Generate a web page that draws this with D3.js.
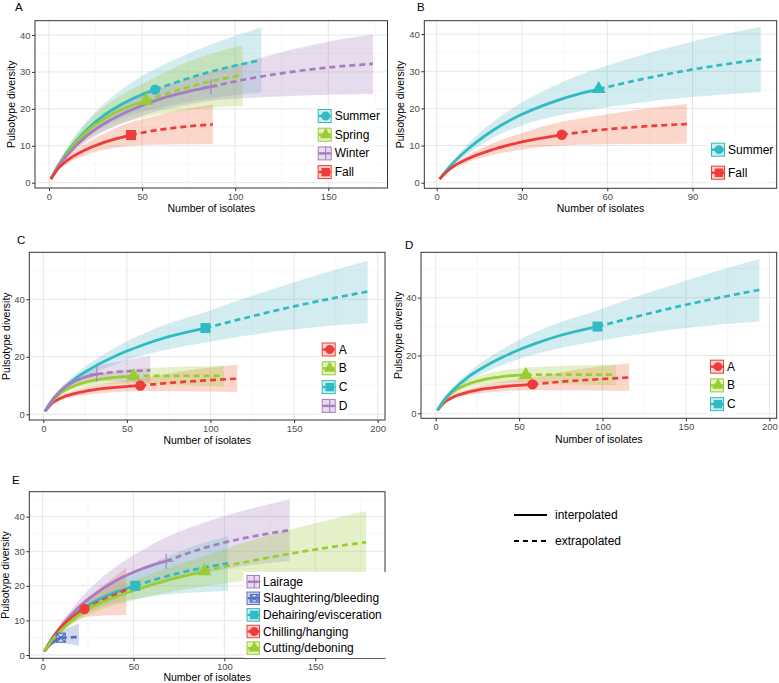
<!DOCTYPE html>
<html><head><meta charset="utf-8">
<script src="https://cdn.jsdelivr.net/npm/d3@7"></script>
<style>
body{margin:0;background:#fff;}
svg{display:block;font-family:"Liberation Sans",Arial,Helvetica,sans-serif;}
</style></head><body>
<svg id="chart" width="779" height="683"></svg>
<script>
// ---- DATA: rows are [number of isolates, estimate, lower CI, upper CI] ----
// Season (panels A, B)
const summer = [[1,1,1,1],[5,4.7,4.2,5.2],[10,8.4,7.2,9.7],[20,14.2,12.2,16.5],[30,18.4,15.4,21.6],[40,21.5,17.6,25.6],[50,23.9,19.2,28.9],[57,25.2,20,30.8],[70,27.5,21.4,33.9],[85,29.8,22.7,37],[100,31.7,23.7,39.8],[114,33.2,24.4,42]];
const spring = [[1,1,1,1],[5,4.6,4.1,5.1],[10,8.2,7,9.5],[20,13.7,11.6,16],[30,17.4,14.3,20.7],[40,20,16.2,24.1],[52,22.2,17.8,27.3],[65,24.4,19,30.6],[80,26.6,20,33.8],[95,28.3,20.6,36.1],[104,29.1,20.8,37.2]];
const winter = [[1,1,1,1],[5,4.4,4,4.8],[10,7.6,6.7,8.6],[20,12.6,11,14.3],[30,16.1,14,18.3],[45,19.9,17.2,22.6],[60,22.7,19.6,25.8],[75,24.7,21.2,28.3],[87,26,22.2,29.9],[110,28.4,23,33.3],[130,30,23.5,36],[150,31.2,23.8,38.2],[174,32.2,24,40.1]];
const fall = [[1,1,1,1],[5,3.9,3.4,4.4],[10,6.1,5.2,7],[20,9,7.5,10.7],[30,11,8.9,13.4],[44,12.9,10,16.4],[55,14,10.3,17.8],[70,15,10.4,19.6],[88,15.8,10.5,21.2]];
const seasonObs = {Summer:57, Spring:52, Winter:87, Fall:44};
// Plants (panels C, D)
const plantA = [[1,1,1,1],[5,3.7,3.3,4.1],[10,5.5,4.8,6.3],[20,7.4,6.3,8.6],[30,8.5,7.1,10],[40,9.2,7.6,11],[58,10,8,12.4],[75,10.9,8,14.2],[95,11.7,7.9,15.9],[116,12.4,7.8,17.3]];
const plantB = [[1,1,1,1],[5,4.4,4,4.8],[10,7.2,6.4,8],[20,10.2,8.9,11.6],[30,11.8,10.1,13.6],[40,12.7,10.6,14.8],[54,13.3,10.8,15.8],[70,13.4,10.4,16.3],[90,13.4,10,16.6],[108,13.4,9.7,16.9]];
const plantC = [[1,1,1,1],[5,4.6,4.2,5],[10,7.8,7,8.6],[20,12.8,11.3,14.3],[30,16.4,14.3,18.6],[40,19.4,16.7,22.2],[50,22,18.8,25.4],[60,24.2,20.5,28.1],[75,27,22.6,31.6],[97,30,25,35.6],[120,33.4,27.2,40.3],[145,36.9,29.2,45],[170,40,30.7,49.5],[194,42.7,31.8,53.4]];
const plantD = [[1,1,1,1],[5,4.7,4.2,5.2],[10,8,7.1,9],[20,11.8,10.2,13.5],[32,14,11.8,16.6],[45,14.8,11.5,18.3],[55,15.1,11.2,19.4],[64,15.3,11,20.3]];
const plantObs = {A:58, B:54, C:97, D:32};
// Processing stage (panel E)
const lairage = [[1,1,1,1],[5,4.6,4.1,5.1],[10,8,7,9],[20,13.8,11.9,15.8],[30,18,15.2,21.2],[40,21.4,17.8,25.4],[50,23.9,19.6,28.8],[60,25.9,20.7,31.9],[68,27.1,21.3,34],[85,30.3,23.3,37.6],[100,32.5,24.8,40.2],[120,34.7,26.3,43],[136,36.1,27.2,45]];
const slaughtering = [[1,1,1,1],[3,2.4,2.1,2.7],[5,3.4,2.9,3.9],[7,4.2,3.4,5],[10,5,3.6,6.6],[15,5.1,3.1,8],[20,5.2,2.6,9.2]];
const dehairing = [[1,1,1,1],[5,4.5,4,5],[10,7.6,6.6,8.6],[20,12.6,10.8,14.4],[30,15.8,13.4,18.3],[40,18.1,15.1,21.2],[51,20,16.2,23.8],[65,22.3,17.3,27.6],[80,24.3,18,30.9],[102,26.5,18.5,34.4]];
const chilling = [[1,1,1,1],[5,4.5,4,5],[10,8,7,9.1],[15,10.4,8.8,12.1],[23,13.3,10.9,15.9],[30,15.1,11.3,18.8],[38,17,11.5,22],[46,18.8,11.6,25.3]];
const cutting = [[1,1,1,1],[5,4.2,3.8,4.6],[10,7,6.2,7.9],[20,11.6,10.1,13.2],[30,14.6,12.6,16.7],[50,18.6,15.8,21.5],[70,21.8,18.2,25.4],[89,24.2,19.9,28.6],[110,26.7,21.3,32.3],[130,28.7,22.2,35.3],[155,30.9,23,38.7],[178,32.6,23.4,41.6]];
const stageObs = {Lairage:68, Slaughtering:10, Dehairing:51, Chilling:23, Cutting:89};

// Tick values
const ticksX_A = [0,50,100,150], ticksY_A = [0,10,20,30,40];
const ticksX_B = [0,30,60,90],   ticksY_B = [0,10,20,30,40];
const ticksX_C = [0,50,100,150,200], ticksY_C = [0,20,40];
const ticksX_E = [0,50,100,150], ticksY_E = [0,10,20,30,40];

// Labels
const seasonLabels = ["Summer","Spring","Winter","Fall"];
const seasonLabelsB = ["Summer","Fall"];
const plantLabels = ["A","B","C","D"];
const stageLabels = ["Lairage","Slaughtering/bleeding","Dehairing/evisceration","Chilling/hanging","Cutting/deboning"];
const lineTypeLabels = ["interpolated","extrapolated"];

// ---- STYLE ----
const COL = {red:"#EE3B3B", green:"#9ACD32", cyan:"#2EBCC2", purple:"#A67DC0", blue:"#5470C2"};
const FILL = {red:"#F06A40", green:"#9ACD32", cyan:"#5BB8C8", purple:"#A77CC2", blue:"#5573C5"};

const panels = [
  {letter:"A", letterPos:[15,10.5], rect:[35,20.7,387.5,188], xd:[-7.52,181.8], yd:[-1.44,43.87],
   xt:ticksX_A, yt:ticksY_A, ytitleX:10.5, xtitleY:212,
   series:[
     {data:summer, obs:seasonObs.Summer, c:"cyan", shape:"circle"},
     {data:spring, obs:seasonObs.Spring, c:"green", shape:"triangle"},
     {data:winter, obs:seasonObs.Winter, c:"purple", shape:"plus"},
     {data:fall, obs:seasonObs.Fall, c:"red", shape:"square"}],
   legend:{x:317.7, y:116, dy:18.7, size:14, items:[
     [seasonLabels[0],"cyan","circle"],[seasonLabels[1],"green","triangle"],[seasonLabels[2],"purple","plus"],[seasonLabels[3],"red","square"]]}},
  {letter:"B", letterPos:[417,10.5], rect:[424.3,20.7,776.7,188.3], xd:[-4.36,119.6], yd:[-1.5,43.6],
   xt:ticksX_B, yt:ticksY_B, ytitleX:399.5, xtitleY:211.7,
   series:[
     {data:summer, obs:seasonObs.Summer, c:"cyan", shape:"triangle"},
     {data:fall, obs:seasonObs.Fall, c:"red", shape:"circle"}],
   legend:{x:711, y:149.7, dy:23, size:14, items:[
     [seasonLabelsB[0],"cyan","circle"],[seasonLabelsB[1],"red","square"]]}},
  {letter:"C", letterPos:[17,243.5], rect:[29.3,252.3,385,420], xd:[-8.37,204.4], yd:[-1.98,56.35],
   xt:ticksX_C, yt:ticksY_C, ytitleX:5.8, xtitleY:444,
   series:[
     {data:plantA, obs:plantObs.A, c:"red", shape:"circle"},
     {data:plantB, obs:plantObs.B, c:"green", shape:"triangle"},
     {data:plantC, obs:plantObs.C, c:"cyan", shape:"square"},
     {data:plantD, obs:plantObs.D, c:"purple", shape:"plus"}],
   legend:{x:321.7, y:349.5, dy:18.8, size:14, items:[
     [plantLabels[0],"red","circle"],[plantLabels[1],"green","triangle"],[plantLabels[2],"cyan","square"],[plantLabels[3],"purple","plus"]]}},
  {letter:"D", letterPos:[405,248.5], rect:[421,252.3,776.7,418.3], xd:[-8.81,204.4], yd:[-1.73,55.7],
   xt:ticksX_C, yt:ticksY_C, ytitleX:398, xtitleY:442.7,
   series:[
     {data:plantA, obs:plantObs.A, c:"red", shape:"circle"},
     {data:plantB, obs:plantObs.B, c:"green", shape:"triangle"},
     {data:plantC, obs:plantObs.C, c:"cyan", shape:"square"}],
   legend:{x:710, y:366.7, dy:18.7, size:14, items:[
     [plantLabels[0],"red","circle"],[plantLabels[1],"green","triangle"],[plantLabels[2],"cyan","square"]]}},
  {letter:"E", letterPos:[12,483.5], rect:[29.3,491.7,385,658.3], xd:[-7.3,188.4], yd:[-0.95,47.2],
   xt:ticksX_E, yt:ticksY_E, ytitleX:5.2, xtitleY:680.5,
   series:[
     {data:lairage, obs:stageObs.Lairage, c:"purple", shape:"plus"},
     {data:slaughtering, obs:stageObs.Slaughtering, c:"blue", shape:"squarex"},
     {data:dehairing, obs:stageObs.Dehairing, c:"cyan", shape:"square"},
     {data:chilling, obs:stageObs.Chilling, c:"red", shape:"circle"},
     {data:cutting, obs:stageObs.Cutting, c:"green", shape:"triangle"}],
   legend:{x:246.5, y:581.7, dy:16.6, size:13.5, items:[
     [stageLabels[0],"purple","plus"],[stageLabels[1],"blue","squarex"],[stageLabels[2],"cyan","square"],[stageLabels[3],"red","circle"],[stageLabels[4],"green","triangle"]]}}
];

const svg = d3.select("#chart");
svg.append("rect").attr("width",779).attr("height",683).attr("fill","#fff");

function minorOf(ticks, dom){
  const step = ticks[1]-ticks[0];
  const out = [];
  for (let i=-1;i<ticks.length;i++){
    const v = ticks[0]+step*i+step/2;
    if (v>dom[0] && v<dom[1]) out.push(v);
  }
  return out;
}

function drawShape(g, shape, cx, cy, colKey, s){
  const col = COL[colKey];
  if (shape==="circle"){
    g.append("circle").attr("cx",cx).attr("cy",cy).attr("r",5.2*s).attr("fill",col);
  } else if (shape==="square"){
    const w=10*s;
    g.append("rect").attr("x",cx-w/2).attr("y",cy-w/2).attr("width",w).attr("height",w).attr("fill",col);
  } else if (shape==="triangle"){
    g.append("path").attr("d", d3.symbol(d3.symbolTriangle, 85*s*s)()).attr("transform",`translate(${cx},${cy})`).attr("fill",col);
  } else if (shape==="plus"){
    const h=7.5*s;
    g.append("line").attr("x1",cx).attr("x2",cx).attr("y1",cy-h).attr("y2",cy+h).attr("stroke",col).attr("stroke-width",1.1);
    g.append("line").attr("x1",cx-h).attr("x2",cx+h).attr("y1",cy).attr("y2",cy).attr("stroke",col).attr("stroke-width",1.1);
  } else if (shape==="squarex"){
    const w=9*s;
    g.append("rect").attr("x",cx-w/2).attr("y",cy-w/2).attr("width",w).attr("height",w).attr("fill","none").attr("stroke",col).attr("stroke-width",1.2);
    g.append("path").attr("d",`M${cx-w/2},${cy-w/2}L${cx+w/2},${cy+w/2}M${cx+w/2},${cy-w/2}L${cx-w/2},${cy+w/2}`).attr("stroke",col).attr("stroke-width",1.2);
  }
}

panels.forEach((p,pi) => {
  const [x0,y0,x1,y1] = p.rect;
  const x = d3.scaleLinear().domain(p.xd).range([x0,x1]);
  const y = d3.scaleLinear().domain(p.yd).range([y1,y0]);
  const g = svg.append("g");
  const clipId = "clip"+pi;
  g.append("clipPath").attr("id",clipId).append("rect").attr("x",x0).attr("y",y0).attr("width",x1-x0).attr("height",y1-y0);

  // grid
  const grid = g.append("g");
  minorOf(p.xt,p.xd).forEach(v => grid.append("line").attr("x1",x(v)).attr("x2",x(v)).attr("y1",y0).attr("y2",y1).attr("stroke","#f2f2f2").attr("stroke-width",0.6));
  minorOf(p.yt,p.yd).forEach(v => grid.append("line").attr("y1",y(v)).attr("y2",y(v)).attr("x1",x0).attr("x2",x1).attr("stroke","#f2f2f2").attr("stroke-width",0.6));
  p.xt.forEach(v => grid.append("line").attr("x1",x(v)).attr("x2",x(v)).attr("y1",y0).attr("y2",y1).attr("stroke","#e6e6e6").attr("stroke-width",1));
  p.yt.forEach(v => grid.append("line").attr("y1",y(v)).attr("y2",y(v)).attr("x1",x0).attr("x2",x1).attr("stroke","#e6e6e6").attr("stroke-width",1));

  const plot = g.append("g").attr("clip-path",`url(#${clipId})`);
  const area = d3.area().x(d=>x(d[0])).y0(d=>y(d[2])).y1(d=>y(d[3])).curve(d3.curveMonotoneX);
  const line = d3.line().x(d=>x(d[0])).y(d=>y(d[1])).curve(d3.curveMonotoneX);
  p.series.forEach(s => plot.append("path").attr("d",area(s.data)).attr("fill",FILL[s.c]).attr("fill-opacity",0.27));
  p.series.forEach(s => {
    plot.append("path").attr("d",line(s.data.filter(d=>d[0]<=s.obs))).attr("fill","none").attr("stroke",COL[s.c]).attr("stroke-width",2.8).attr("stroke-linecap","butt");
    plot.append("path").attr("d",line(s.data.filter(d=>d[0]>=s.obs))).attr("fill","none").attr("stroke",COL[s.c]).attr("stroke-width",2.7).attr("stroke-dasharray","6,4");
  });
  p.series.forEach(s => {
    const o = s.data.find(d=>d[0]===s.obs);
    drawShape(plot, s.shape, x(o[0]), y(o[1]), s.c, 1);
  });

  // border
  g.append("rect").attr("x",x0).attr("y",y0).attr("width",x1-x0).attr("height",y1-y0).attr("fill","none").attr("stroke","#333").attr("stroke-width",1);

  // axes
  const ax = g.append("g").attr("transform",`translate(0,${y1})`).call(d3.axisBottom(x).tickValues(p.xt).tickSize(3).tickPadding(2));
  const ay = g.append("g").attr("transform",`translate(${x0},0)`).call(d3.axisLeft(y).tickValues(p.yt).tickSize(3).tickPadding(1.5));
  [ax,ay].forEach(a => {
    a.select(".domain").remove();
    a.selectAll(".tick line").attr("stroke","#333");
    a.selectAll(".tick text").attr("fill","#4d4d4d").style("font-size","9.5px").style("font-family",'"Liberation Sans",Arial,sans-serif');
  });

  // titles
  g.append("text").attr("x",(x0+x1)/2).attr("y",p.xtitleY).attr("text-anchor","middle").style("font-size","10.5px").attr("fill","#000").text("Number of isolates");
  g.append("text").attr("transform",`translate(${p.ytitleX},${(y0+y1)/2}) rotate(-90)`).attr("text-anchor","middle").attr("dominant-baseline","central").style("font-size","10.5px").attr("fill","#000").text("Pulsotype diversity");
  g.append("text").attr("x",p.letterPos[0]).attr("y",p.letterPos[1]).style("font-size","11.5px").attr("fill","#000").text(p.letter);

  // legend
  const L = p.legend;
  const lg = g.append("g");
  let maxW = 0;
  L.items.forEach(it => { maxW = Math.max(maxW, it[0].length*6.6); });
  lg.append("rect").attr("x",L.x-3).attr("y",L.y-L.size/2-3).attr("width",L.size+8+maxW).attr("height",L.dy*(L.items.length-1)+L.size+6).attr("fill","#fff");
  L.items.forEach((it,i) => {
    const cy = L.y + i*L.dy, s = L.size;
    lg.append("rect").attr("x",L.x+0.5).attr("y",cy-s/2+0.5).attr("width",s-1).attr("height",s-1).attr("fill",FILL[it[1]]).attr("fill-opacity",0.27).attr("stroke",COL[it[1]]).attr("stroke-width",1);
    lg.append("line").attr("x1",L.x+1).attr("x2",L.x+s-1).attr("y1",cy).attr("y2",cy).attr("stroke",COL[it[1]]).attr("stroke-width",2.4);
    drawShape(lg, it[2], L.x+s/2+1, cy, it[1], 0.85);
    lg.append("text").attr("x",L.x+s+3).attr("y",cy).attr("dominant-baseline","central").style("font-size","12px").attr("fill","#000").text(it[0]);
  });
});

// linetype legend
const lt = svg.append("g");
const ltY = d3.scaleOrdinal().domain(lineTypeLabels).range([515,541]);
const ltDash = d3.scaleOrdinal().domain(lineTypeLabels).range([null,"5,4"]);
lineTypeLabels.forEach(lbl => {
  lt.append("line").attr("x1",514).attr("x2",547).attr("y1",ltY(lbl)).attr("y2",ltY(lbl)).attr("stroke","#000").attr("stroke-width",2.2).attr("stroke-dasharray",ltDash(lbl));
  lt.append("text").attr("x",555).attr("y",ltY(lbl)).attr("dominant-baseline","central").style("font-size","12px").attr("fill","#000").text(lbl);
});
</script>
</body></html>
